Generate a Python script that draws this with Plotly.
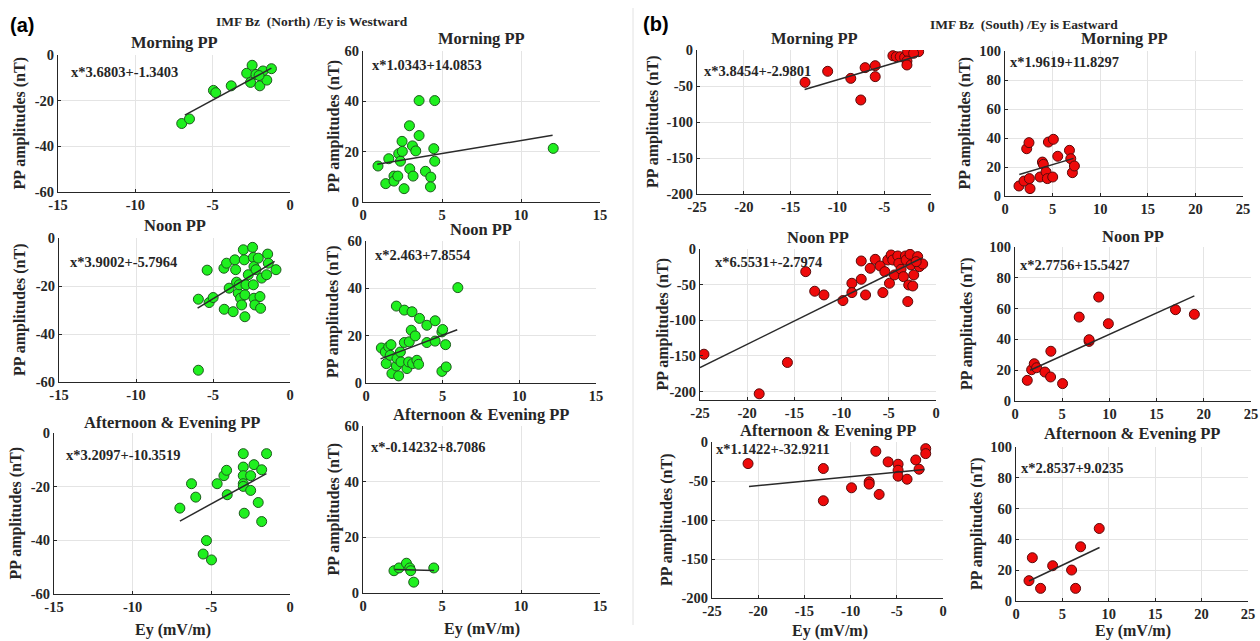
import plotly.graph_objects as go

W, H = 1260, 641

# ---------------- data ----------------
A1_EY = [-7.0, -6.5, -4.95, -4.8, -3.8, -2.8, -2.45, -2.55, -2.2, -1.95, -1.75, -1.5, -1.2, -2.0]
A1_PP = [-30, -28, -15.5, -16.5, -13.5, -8, -4.5, -12, -8.5, -13.5, -7, -11, -6, -9]

A2_EY = [0.95, 1.44, 1.63, 1.96, 1.96, 2.2, 2.26, 2.37, 2.47, 2.49, 2.6, 2.94, 2.96, 3.13,
         3.17, 3.34, 3.55, 3.55, 3.95, 4.29, 4.27, 4.48, 4.54, 4.54, 12.04]
A2_PP = [14.3, 7.3, 17.2, 10.3, 8.3, 10.3, 19.2, 16.2, 24.1, 20.1, 5.3, 30.3, 13.2, 22.3,
         10.3, 20.3, 26.4, 40.3, 12.2, 9.9, 6.0, 21.2, 16.2, 40.3, 21.3]

A3_EY = [-5.95, -5.95, -5.38, -5.25, -4.99, -4.27, -4.29, -4.12, -3.95, -3.69, -3.58, -3.53,
         -3.47, -3.36, -3.3, -3.21, -3.14, -3.03, -2.97, -2.93, -2.93, -2.86, -2.71, -2.43,
         -2.38, -2.38, -2.34, -2.34, -2.28, -2.21, -2.06, -1.95, -1.91, -1.84, -1.52, -1.45,
         -1.41, -0.91]
A3_PP = [-55.1, -25.5, -13.4, -26.9, -24.8, -29.7, -12.6, -10.5, -20.9, -30.7, -9.1, -13.2,
         -18.4, -23.0, -19.5, -25.1, -27.9, -4.9, -9.1, -32.8, -23.7, -19.5, -15.3, -3.9,
         -8.1, -19.5, -11.9, -25.1, -27.9, -13.2, -8.4, -24.4, -29.3, -16.7, -15.3, -6.7,
         -10.5, -13.2]

A4_EY = [1.0, 1.26, 1.48, 1.63, 1.32, 1.58, 1.69, 1.98, 1.98, 2.02, 2.13, 2.24, 2.28, 2.5,
         2.5, 2.67, 2.78, 2.82, 2.95, 3.0, 3.04, 3.21, 3.32, 3.43, 3.49, 3.97, 3.97, 4.51,
         4.51, 4.95, 5.0, 4.95, 5.23, 5.19, 5.99]
A4_PP = [14.8, 13.1, 15.3, 16.2, 8.2, 11.7, 4.0, 7.2, 32.5, 10.4, 3.0, 13.1, 8.9, 30.8,
         17.1, 6.1, 8.9, 17.4, 22.3, 30.1, 8.2, 19.9, 9.6, 7.9, 27.3, 17.1, 24.4, 26.3,
         17.7, 21.6, 22.6, 4.9, 6.8, 16.2, 40.3]

A5_EY = [-7.0, -6.26, -5.99, -5.52, -5.31, -4.99, -4.63, -4.2, -4.03, -3.99, -2.97, -2.97,
         -2.97, -2.97, -2.97, -2.91, -2.5, -2.5, -2.29, -2.02, -1.8, -1.8, -1.49]
A5_PP = [-28, -18.9, -23.9, -45.1, -40.1, -47.3, -18.9, -15.9, -13.9, -23.0, -7.7, -12.7,
         -15.9, -18.9, -19.9, -29.9, -21.4, -15.9, -11.8, -25.9, -33.0, -13.7, -7.7]

A6_EY = [1.96, 2.28, 2.75, 2.96, 3.02, 3.21, 4.48]
A6_PP = [8.0, 9.0, 10.7, 9.0, 8.0, 3.9, 9.0]

B1_EY = [-13.46, -11.04, -8.57, -7.5, -7.04, -5.96, -5.96, -4.07, -3.71, -3.29, -2.82, -2.5,
         -2.57, -2.57, -1.32, -1.86]
B1_PP = [-44.9, -29.6, -39.4, -69.4, -24.5, -21.8, -37.0, -7.9, -9.3, -9.3, -10.2, -2.3,
         -15.3, -20.8, -2.3, -4.6]

B2_EY = [1.47, 2.0, 2.28, 2.52, 2.56, 2.63, 3.68, 3.93, 4.03, 4.31, 4.45, 4.56, 5.08, 5.01,
         5.54, 6.77, 6.91, 7.08, 7.29]
B2_PP = [6.9, 10.3, 32.6, 36.8, 12.0, 5.1, 13.1, 23.4, 21.8, 16.6, 12.0, 37.2, 39.1, 13.1,
         27.4, 31.5, 25.7, 16.1, 20.7]

B3_EY = [-24.58, -18.73, -15.74, -13.8, -12.85, -11.87, -9.86, -8.91, -8.91, -7.92, -7.92,
         -7.46, -6.97, -6.44, -5.92, -5.63, -5.42, -5.11, -4.93, -4.75, -4.58, -4.4, -4.05,
         -3.94, -3.7, -3.45, -3.24, -3.17, -2.99, -2.89, -2.75, -2.64, -2.46, -2.36, -1.94,
         -1.76, -1.41, -2.1]
B3_PP = [-147.7, -203.3, -159.3, -31.8, -59.3, -64.5, -72.4, -48.1, -61.2, -42.5, -16.8,
         -64.5, -27.1, -14.5, -23.8, -61.2, -31.8, -15.4, -48.1, -8.4, -15.4, -36.4, -9.8,
         -20.1, -28.5, -38.8, -9.8, -15.4, -73.8, -50.5, -7.5, -22.4, -51.9, -36.4, -10.7,
         -24.8, -21.0, -17.8]

B4_EY = [1.3, 1.76, 2.04, 2.29, 3.17, 3.77, 3.8, 5.04, 6.8, 7.85, 7.85, 8.87, 9.89, 17.0, 19.0]
B4_PP = [13.4, 20.3, 24.2, 21.6, 18.8, 15.6, 32.3, 11.3, 54.5, 38.7, 39.8, 67.5, 50.2, 59.3, 56.3]

B5_EY = [-21.1, -12.95, -12.95, -9.9, -7.99, -7.99, -7.27, -6.91, -5.94, -4.86, -4.86, -4.86,
         -3.89, -2.95, -2.59, -1.87, -1.87]
B5_PP = [-27.7, -34.0, -75.3, -58.7, -51.1, -54.0, -11.9, -67.2, -25.5, -28.5, -36.2, -43.8,
         -47.7, -23.0, -34.9, -8.5, -14.9]

B6_EY = [1.4, 1.76, 2.65, 3.95, 5.99, 6.42, 6.96, 8.97]
B6_PP = [13.2, 28.1, 8.2, 22.9, 20.1, 8.2, 35.2, 47.1]

TITLES = ["Morning PP", "Morning PP", "Noon PP", "Noon PP",
          "Afternoon & Evening PP", "Afternoon & Evening PP"] * 2
EQ_TEXT = ["x*3.6803+-1.3403", "x*1.0343+14.0853", "x*3.9002+-5.7964", "x*2.463+7.8554",
           "x*3.2097+-10.3519", "x*-0.14232+8.7086", "x*3.8454+-2.9801", "x*1.9619+11.8297",
           "x*6.5531+-2.7974", "x*2.7756+15.5427", "x*1.1422+-32.9211", "x*2.8537+9.0235"]
SLOPES = [3.6803, 1.0343, 3.9002, 2.463, 3.2097, -0.14232,
          3.8454, 1.9619, 6.5531, 2.7756, 1.1422, 2.8537]
INTERCEPTS = [-1.3403, 14.0853, -5.7964, 7.8554, -10.3519, 8.7086,
              -2.9801, 11.8297, -2.7974, 15.5427, -32.9211, 9.0235]
FIT_X0 = [-6.8, 0.9, -6.0, 0.95, -7.0, 2.0, -13.5, 1.5, -25.0, 1.6, -21.0, 1.4]
FIT_X1 = [-1.2, 12.0, -1.0, 5.95, -1.5, 4.5, -1.3, 7.2, -1.5, 19.0, -2.0, 9.0]

X_TICKS_A_NEG = [-15, -10, -5, 0]
X_TICKS_A_POS = [0, 5, 10, 15]
Y_TICKS_A_NEG = [-60, -40, -20, 0]
Y_TICKS_A_POS = [0, 20, 40, 60]
X_TICKS_B_NEG = [-25, -20, -15, -10, -5, 0]
X_TICKS_B_POS = [0, 5, 10, 15, 20, 25]
Y_TICKS_B_NEG = [-200, -150, -100, -50, 0]
Y_TICKS_B_POS = [0, 20, 40, 60, 80, 100]

EY_LIST = [A1_EY, A2_EY, A3_EY, A4_EY, A5_EY, A6_EY, B1_EY, B2_EY, B3_EY, B4_EY, B5_EY, B6_EY]
PP_LIST = [A1_PP, A2_PP, A3_PP, A4_PP, A5_PP, A6_PP, B1_PP, B2_PP, B3_PP, B4_PP, B5_PP, B6_PP]

# ---------------- layout (pixel boxes of plot areas) ----------------
BOX = [(58, 290, 55, 192), (363, 600, 51, 202),
       (59, 290, 238, 382), (366, 596, 241, 383),
       (54, 290, 433, 594), (363, 600, 426, 593),
       (697, 931, 50, 194), (1005, 1243, 51, 196),
       (700, 936, 249, 400), (1015, 1251, 247, 401),
       (712, 943, 442, 598), (1016, 1248, 447, 601)]
TITLE_Y = [43, 38, 226, 229, 422, 415, 38, 38, 238, 236, 430, 434]
EQ_POS = [(69, 72), (370, 65), (68, 262), (373, 255), (64, 455), (369, 447),
          (702, 71), (1008, 62), (713, 262), (1018, 265), (714, 449), (1019, 468)]
YLAB_X = [20, 333, 20, 333, 15, 333, 653, 965, 662, 967, 667, 977]

GREEN, GREEN_EDGE = "#1ff01f", "#1e5a1e"
RED, RED_EDGE = "#ee0a0a", "#5a0a0a"
SERIF = "Liberation Serif"
TXT = "#262626"


def px(x):
    return x / W


def py(y):
    return 1 - y / H


def bold_ticks(vals):
    return ["<b>%s</b>" % v for v in vals]


fig = go.Figure()
annotations = []

for i in range(12):
    n = "" if i == 0 else str(i + 1)
    xa, ya = "x" + n, "y" + n
    is_b = i >= 6
    left_col = (i % 2 == 0)
    fc, ec = (RED, RED_EDGE) if is_b else (GREEN, GREEN_EDGE)

    fig.add_trace(go.Scatter(
        x=EY_LIST[i], y=PP_LIST[i], mode="markers", xaxis=xa, yaxis=ya,
        marker=dict(size=10, color=fc, line=dict(color=ec, width=1)),
        showlegend=False, hoverinfo="x+y"))
    fx = [FIT_X0[i], FIT_X1[i]]
    fy = [SLOPES[i] * v + INTERCEPTS[i] for v in fx]
    fig.add_trace(go.Scatter(
        x=fx, y=fy, mode="lines", xaxis=xa, yaxis=ya,
        line=dict(color="#2a2a2a", width=1.5), showlegend=False, hoverinfo="skip"))

    if not is_b:
        xt = X_TICKS_A_NEG if left_col else X_TICKS_A_POS
        yt = Y_TICKS_A_NEG if left_col else Y_TICKS_A_POS
    else:
        xt = X_TICKS_B_NEG if left_col else X_TICKS_B_POS
        yt = Y_TICKS_B_NEG if left_col else Y_TICKS_B_POS
    yr = [min(yt), max(yt)]
    if i == 8:
        yr = [-212, 0]

    x0, x1, yt_px, yb_px = BOX[i]
    tickfont = dict(family=SERIF, size=14.5, color=TXT)
    common = dict(showgrid=True, gridcolor="#e4e4e4", gridwidth=1, zeroline=False,
                  showline=True, linecolor=TXT, linewidth=1, ticks="inside",
                  ticklen=3, tickcolor=TXT, tickfont=tickfont, automargin=False,
                  fixedrange=True, tickmode="array")
    fig.layout["xaxis" + n] = dict(domain=[px(x0), px(x1)], range=[min(xt), max(xt)],
                                   tickvals=xt, ticktext=bold_ticks(xt), anchor=ya, **common)
    fig.layout["yaxis" + n] = dict(domain=[py(yb_px), py(yt_px)], range=yr,
                                   tickvals=yt, ticktext=bold_ticks(yt), anchor=xa, **common)

    # subplot title
    annotations.append(dict(text="<b>%s</b>" % TITLES[i], x=px((x0 + x1) / 2),
                            y=py(TITLE_Y[i]), xref="paper", yref="paper",
                            xanchor="center", yanchor="middle", showarrow=False,
                            font=dict(family=SERIF, size=16.5, color=TXT)))
    # equation text
    ex, ey = EQ_POS[i]
    annotations.append(dict(text="<b>%s</b>" % EQ_TEXT[i], x=px(ex), y=py(ey),
                            xref="paper", yref="paper",
                            xanchor="left", yanchor="middle", showarrow=False,
                            font=dict(family=SERIF, size=14.5, color=TXT)))
    # y label
    annotations.append(dict(text="<b>PP amplitudes (nT)</b>", x=px(YLAB_X[i]),
                            y=py((yt_px + yb_px) / 2), xref="paper", yref="paper",
                            xanchor="center", yanchor="middle", textangle=-90,
                            showarrow=False,
                            font=dict(family=SERIF, size=16, color=TXT)))

# x labels on bottom row
for (lx, ly) in [(173, 630), (482, 629), (830, 631), (1133, 631)]:
    annotations.append(dict(text="<b>Ey (mV/m)</b>", x=px(lx), y=py(ly), xref="paper",
                            yref="paper", xanchor="center", yanchor="middle",
                            showarrow=False,
                            font=dict(family=SERIF, size=16, color=TXT)))

# panel labels and super-titles
annotations.append(dict(text="<b>(a)</b>", x=px(22), y=py(25), xref="paper", yref="paper",
                        xanchor="center", yanchor="middle", showarrow=False,
                        font=dict(family="Liberation Sans", size=20, color="#000")))
annotations.append(dict(text="<b>(b)</b>", x=px(656), y=py(24), xref="paper", yref="paper",
                        xanchor="center", yanchor="middle", showarrow=False,
                        font=dict(family="Liberation Sans", size=20, color="#000")))
annotations.append(dict(text="<b>IMF Bz \u00a0(North) /Ey is Westward</b>", x=px(312),
                        y=py(21), xref="paper", yref="paper", xanchor="center",
                        yanchor="middle", showarrow=False,
                        font=dict(family=SERIF, size=13.5, color=TXT)))
annotations.append(dict(text="<b>IMF Bz \u00a0(South) /Ey is Eastward</b>", x=px(1024),
                        y=py(24), xref="paper", yref="paper", xanchor="center",
                        yanchor="middle", showarrow=False,
                        font=dict(family=SERIF, size=13.5, color=TXT)))

fig.update_layout(
    width=W, height=H, margin=dict(l=0, r=0, t=0, b=0),
    paper_bgcolor="white", plot_bgcolor="white", showlegend=False,
    annotations=annotations,
    shapes=[dict(type="line", xref="paper", yref="paper", x0=px(633), x1=px(633),
                 y0=py(625), y1=py(8), line=dict(color="#e2e2e2", width=1))],
)

fig.write_html("out.html")
